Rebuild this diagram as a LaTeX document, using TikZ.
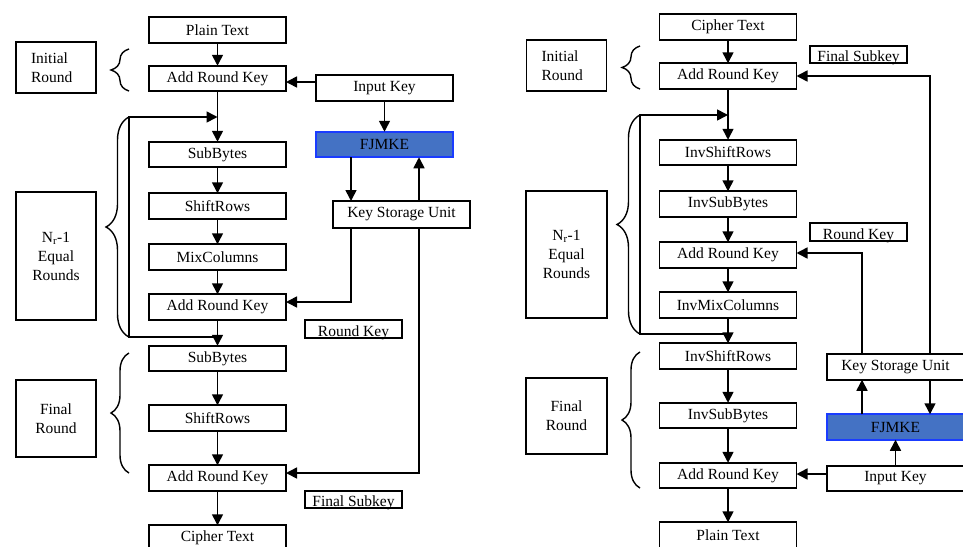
\documentclass[tikz,border=0pt]{standalone}
\usepackage{fontspec}
\setmainfont{Liberation Serif}
\usetikzlibrary{arrows.meta,decorations.pathreplacing}
\definecolor{fjblue}{HTML}{4472C4}
\definecolor{fjedge}{HTML}{1A3CFF}
\begin{document}
\begin{tikzpicture}[x=1pt,y=-1pt,
  every node/.style={font=\fontsize{15.5}{19}\selectfont, inner sep=0pt, outer sep=0pt},
  stepbox/.style={draw, line width=1.6pt, minimum width=137pt, minimum height=25.5pt},
  fjbox/.style={stepbox, fill=fjblue, draw=fjedge},
  sidebox/.style={draw, line width=1.6pt, minimum width=80pt, align=center},
  initbox/.style={draw, line width=1.6pt, text width=50pt, inner xsep=15pt, minimum height=51pt, align=left},
  lblbox/.style={draw, line width=1.6pt, minimum width=97pt, minimum height=17.5pt, text height=14pt, text depth=0pt},
  conn/.style={line width=1.6pt, -{Triangle[length=11pt,width=11pt]}},
  curly/.style={line width=1.4pt, decorate, decoration={brace, amplitude=#1}},
  curly/.default=18pt
]
\useasboundingbox (0,0) rectangle (963,546);
\clip (0,0) rectangle (963,546);

% ================= LEFT: encryption =================
\node[stepbox] (pt1) at (217.5,30) {Plain Text};
\node[stepbox] (ark1) at (217.5,78.5) {Add Round Key};
\node[stepbox] (sb1) at (217.5,154.5) {SubBytes};
\node[stepbox] (sr1) at (217.5,206) {ShiftRows};
\node[stepbox] (mc) at (217.5,257) {MixColumns};
\node[stepbox] (ark2) at (217.5,307) {Add Round Key};
\node[stepbox] (sb2) at (217.5,358.5) {SubBytes};
\node[stepbox] (sr2) at (217.5,418) {ShiftRows};
\node[stepbox] (ark3) at (217.5,478) {Add Round Key};
\node[stepbox] (ct1) at (217.5,538) {Cipher Text};

\node[initbox] (ir1) at (56,67.5) {Initial\\Round};
\node[sidebox, minimum height=128pt] (nr1) at (56,256) {N\textsubscript{r}-1\\Equal\\Rounds};
\node[sidebox, minimum height=77pt] (fr1) at (56,418.5) {Final\\Round};

\node[stepbox] (ik1) at (384.5,88) {Input Key};
\node[fjbox] (fj1) at (384.5,144.5) {FJMKE};
\node[stepbox, minimum height=27pt] (ks1) at (401.5,214.5) {Key Storage Unit};
\node[lblbox] (rk1) at (353.5,329) {Round Key};
\node[lblbox] (fs1) at (353.5,499.5) {Final Subkey};

\coordinate (lx1) at (351,0);
\coordinate (lx2) at (419,0);
\coordinate (ly1) at (0,82);
\coordinate (ly2) at (0,302);
\coordinate (ly3) at (0,473);
\coordinate (ltop) at (129,117);
\coordinate (lbot) at (129,337);

\draw[conn] (pt1.south) -- (ark1.north);
\draw[conn] (ark1.south) -- (sb1.north);
\draw[conn] (sb1.south) -- (sr1.north);
\draw[conn] (sr1.south) -- (mc.north);
\draw[conn] (mc.south) -- (ark2.north);
\draw[conn] (ark2.south) -- (sb2.north);
\draw[conn] (sb2.south) -- (sr2.north);
\draw[conn] (sr2.south) -- (ark3.north);
\draw[conn] (ark3.south) -- (ct1.north);
\draw[conn] (ark2.south |- lbot) -- (lbot) -- (ltop) -- (ark1.south |- ltop);

\draw[conn] (ik1.west |- ly1) -- (ark1.east |- ly1);
\draw[conn] (ik1.south) -- (fj1.north);
\draw[conn] (fj1.south -| lx1) -- (ks1.north -| lx1);
\draw[conn] (ks1.north -| lx2) -- (fj1.south -| lx2);
\draw[conn] (ks1.south -| lx1) |- (ark2.east |- ly2);
\draw[conn] (ks1.south -| lx2) |- (ark3.east |- ly3);

\draw[curly=18pt] (129,91) -- (129,49);
\draw[curly=23pt] (lbot) -- (ltop);
\draw[curly=18pt] (129,473) -- (129,353);

% ================= RIGHT: decryption =================
\node[stepbox] (ct2) at (728,27) {Cipher Text};
\node[stepbox] (ark4) at (728,76) {Add Round Key};
\node[stepbox] (isr1) at (728,152.5) {InvShiftRows};
\node[stepbox] (isb1) at (728,204) {InvSubBytes};
\node[stepbox] (ark5) at (728,255) {Add Round Key};
\node[stepbox] (imc) at (728,305) {InvMixColumns};
\node[stepbox] (isr2) at (728,356) {InvShiftRows};
\node[stepbox] (isb2) at (728,415.5) {InvSubBytes};
\node[stepbox] (ark6) at (728,475.5) {Add Round Key};
\node[stepbox] (pt2) at (728,535) {Plain Text};

\node[initbox] (ir2) at (566.5,65.5) {Initial\\Round};
\node[sidebox, minimum height=127pt, minimum width=81pt] (nr2) at (566.5,254.5) {N\textsubscript{r}-1\\Equal\\Rounds};
\node[sidebox, minimum height=76pt, minimum width=81pt] (fr2) at (566.5,416) {Final\\Round};

\node[lblbox] (fs2) at (858.5,54.5) {Final Subkey};
\node[lblbox] (rk2) at (858.5,232) {Round Key};
\node[stepbox] (ks2) at (895.5,367) {Key Storage Unit};
\node[fjbox] (fj2) at (895.5,427) {FJMKE};
\node[stepbox] (ik2) at (895.5,478.5) {Input Key};

\coordinate (rx1) at (862,0);
\coordinate (rx2) at (930,0);
\coordinate (ry2) at (0,253);
\coordinate (ry3) at (0,474);
\coordinate (rtop) at (640,115);
\coordinate (rbot) at (640,334);

\draw[conn] (ct2.south) -- (ark4.north);
\draw[conn] (ark4.south) -- (isr1.north);
\draw[conn] (isr1.south) -- (isb1.north);
\draw[conn] (isb1.south) -- (ark5.north);
\draw[conn] (ark5.south) -- (imc.north);
\draw[conn] (imc.south) -- (isr2.north);
\draw[conn] (isr2.south) -- (isb2.north);
\draw[conn] (isb2.south) -- (ark6.north);
\draw[conn] (ark6.south) -- (pt2.north);
\draw[conn] (imc.south |- rbot) -- (rbot) -- (rtop) -- (ark4.south |- rtop);

\draw[conn] (ks2.north -| rx2) |- (ark4.east);
\draw[conn] (ks2.north -| rx1) |- (ark5.east |- ry2);
\draw[conn] (ks2.south -| rx2) -- (fj2.north -| rx2);
\draw[conn] (fj2.north -| rx1) -- (ks2.south -| rx1);
\draw[conn] (ik2.north) -- (fj2.south);
\draw[conn] (ik2.west |- ry3) -- (ark6.east |- ry3);

\draw[curly=18pt] (640,89) -- (640,46);
\draw[curly=23pt] (rbot) -- (rtop);
\draw[curly=18pt] (640,488) -- (640,352);
\end{tikzpicture}
\end{document}
